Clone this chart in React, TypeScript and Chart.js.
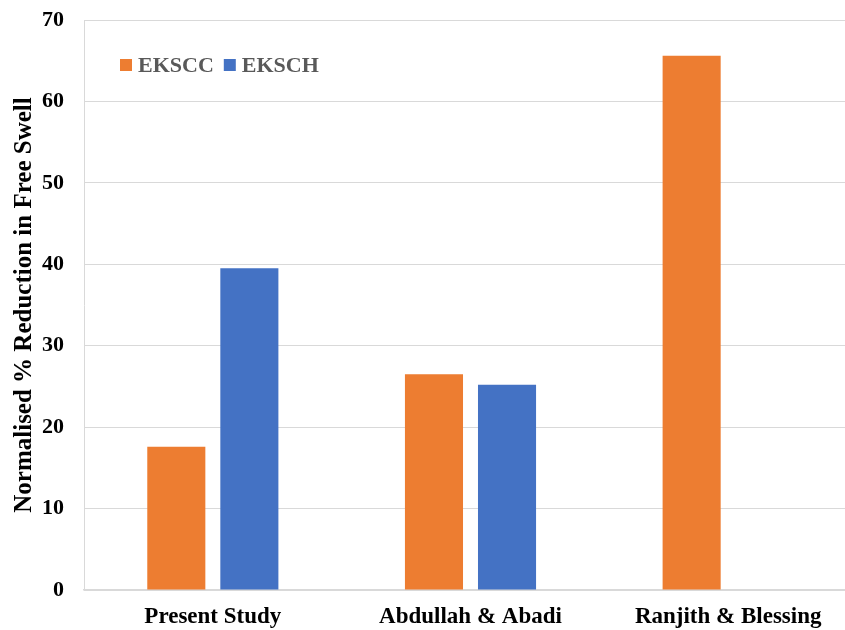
import React, { useEffect, useRef } from "react";
import { Chart, registerables } from "chart.js";

Chart.register(...registerables);

const categories = ["Present Study", "Abdullah & Abadi", "Ranjith & Blessing"];
const ekscc = [17.6, 26.5, 65.6];
const eksch = [39.5, 25.2, null];
const seriesNames = ["EKSCC", "EKSCH"];
const colors = ["#ED7D31", "#4472C4"];

const FONT = "'Liberation Serif', 'Times New Roman', serif";

const insideLegend = {
  id: "insideLegend",
  afterDraw(chart: any) {
    const { ctx, chartArea } = chart;
    ctx.save();
    ctx.font = `bold 22px ${FONT}`;
    ctx.textBaseline = "middle";
    let x = chartArea.left + 36;
    const y = chartArea.top + 45;
    seriesNames.forEach((name, i) => {
      ctx.fillStyle = colors[i];
      ctx.fillRect(x, y - 6, 12, 12);
      x += 18;
      ctx.fillStyle = "#595959";
      ctx.fillText(name, x, y + 1);
      x += ctx.measureText(name).width + 10;
    });
    ctx.restore();
  },
};

export default function App() {
  const ref = useRef<HTMLCanvasElement>(null);
  useEffect(() => {
    const chart = new Chart(ref.current!, {
      type: "bar",
      data: {
        labels: categories,
        datasets: [
          { label: seriesNames[0], data: ekscc, backgroundColor: colors[0] },
          { label: seriesNames[1], data: eksch as any, backgroundColor: colors[1] },
        ],
      },
      options: {
        animation: false,
        responsive: true,
        maintainAspectRatio: false,
        layout: { padding: { top: 20, right: 0, left: 10, bottom: 0 } },
        datasets: { bar: { categoryPercentage: 0.567, barPercentage: 0.795 } } as any,
        plugins: { legend: { display: false }, tooltip: { enabled: false } },
        scales: {
          x: {
            grid: { display: false, drawTicks: false },
            border: { color: "#d9d9d9", width: 1.5 },
            ticks: {
              color: "#000",
              padding: 13,
              font: { family: FONT, size: 23, weight: "bold" },
            },
            afterFit: (s: any) => {
              s.height = 40;
              s.paddingLeft = 0;
              s.paddingRight = 0;
            },
          },
          y: {
            min: 0,
            max: 70,
            ticks: {
              stepSize: 10,
              color: "#000",
              padding: 20,
              font: { family: FONT, size: 22, weight: "bold" },
            },
            grid: { color: "#d9d9d9", drawTicks: false },
            border: { display: true, color: "#d9d9d9" },
            title: {
              display: true,
              text: "Normalised % Reduction in Free Swell",
              color: "#000",
              padding: { top: 0, bottom: 2 },
              font: { family: FONT, size: 25, weight: "bold" },
            },
            afterFit: (s: any) => {
              s.width = 74;
              s.paddingTop = 0;
              s.paddingBottom = 0;
            },
          },
        },
      },
      plugins: [insideLegend],
    });
    return () => chart.destroy();
  }, []);
  return (
    <div style={{ position: "fixed", left: 0, top: 0, width: 845, height: 630, overflow: "hidden", background: "#fff" }}>
      <div style={{ position: "absolute", left: 0, top: 0, width: 857, height: 630 }}>
        <canvas ref={ref} />
      </div>
    </div>
  );
}
